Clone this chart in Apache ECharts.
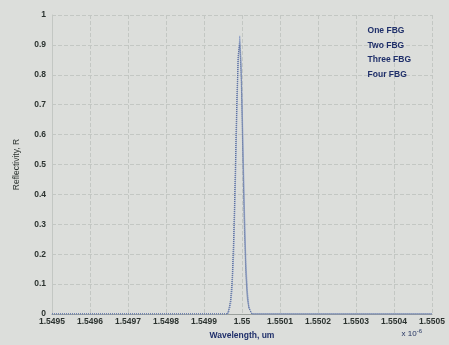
<!DOCTYPE html>
<html><head><meta charset="utf-8">
<script src="https://cdn.jsdelivr.net/npm/echarts@6/dist/echarts.min.js"></script>
<style>html,body{margin:0;padding:0;background:#dcdedb;}#c{width:449px;height:345px;}</style>
</head><body><div id="c"></div>
<script>
const seriesNames = ['One FBG', 'Two FBG', 'Three FBG', 'Four FBG'];
const wavelength = [1.5495, 1.549962, 1.549966, 1.549970, 1.549974, 1.549978, 1.549982, 1.549986, 1.549990, 1.549994, 1.549998, 1.550002, 1.550006, 1.550010, 1.550014, 1.550018, 1.550022, 1.550026, 1.5505];
const oneFBG   = [0, 0, 0.01, 0.03, 0.08, 0.19, 0.38, 0.62, 0.84, 0.93, 0.84, 0.62, 0.38, 0.19, 0.08, 0.03, 0.01, 0, 0];
const twoFBG   = [0, 0, 0.01, 0.04, 0.09, 0.21, 0.41, 0.65, 0.85, 0.92, 0.82, 0.59, 0.35, 0.17, 0.07, 0.02, 0.01, 0, 0];
const threeFBG = [0, 0, 0.02, 0.04, 0.10, 0.23, 0.44, 0.68, 0.86, 0.91, 0.80, 0.56, 0.32, 0.15, 0.06, 0.02, 0.01, 0, 0];
const fourFBG  = [0, 0, 0.02, 0.05, 0.12, 0.26, 0.47, 0.71, 0.87, 0.90, 0.78, 0.53, 0.29, 0.13, 0.05, 0.02, 0.01, 0, 0];
const xTicks = [1.5495, 1.5505, 0.0001];
const yTicks = [0, 1, 0.1];

const allY = [oneFBG, twoFBG, threeFBG, fourFBG];
const colors = ['#6f86bd', '#8fa0c8', '#7d8fb5', '#5c6f9e'];
const chart = echarts.init(document.getElementById('c'), null, {renderer: 'canvas'});
const lblColor = '#2c3330';
chart.setOption({
  backgroundColor: '#dcdedb',
  animation: false,
  textStyle: {fontFamily: 'Liberation Sans, Arial, sans-serif'},
  grid: {left: 52, right: 17, top: 15, bottom: 29},
  title: {
    text: 'x 10{s|-6}', right: 22, bottom: 2,
    textStyle: {fontSize: 8, color: '#1f2f5e', fontWeight: 'normal', rich: {s: {fontSize: 6, verticalAlign: 'top', padding: [0,0,6,0], color: '#1f2f5e'}}}
  },
  legend: {
    data: seriesNames, orient: 'vertical', right: 38, top: 24, icon: 'none',
    itemWidth: 0, itemGap: 3, padding: 0, align: 'left',
    textStyle: {fontSize: 8.5, color: '#1f2f6a', fontWeight: 'bold'}
  },
  xAxis: {
    type: 'value', min: xTicks[0], max: xTicks[1], interval: xTicks[2],
    name: 'Wavelength, um', nameLocation: 'middle', nameGap: 17,
    nameTextStyle: {fontSize: 8.5, color: '#1f2f6a', fontWeight: 'bold'},
    axisLine: {lineStyle: {color: '#9aa09c'}},
    axisTick: {show: false},
    axisLabel: {fontSize: 8.5, color: lblColor, fontWeight: 'bold', margin: 3, formatter: v => String(+v.toFixed(4))},
    splitLine: {show: true, lineStyle: {color: '#c3c7c3', type: 'dashed', width: 1}}
  },
  yAxis: {
    type: 'value', min: yTicks[0], max: yTicks[1], interval: yTicks[2],
    name: 'Reflectivity, R', nameLocation: 'middle', nameGap: 31,
    nameTextStyle: {fontSize: 8.5, color: '#2c3330'},
    axisLine: {show: true, lineStyle: {color: '#c3c7c3'}},
    axisTick: {show: false},
    axisLabel: {fontSize: 8.5, color: lblColor, fontWeight: 'bold', margin: 6, formatter: v => String(+v.toFixed(1))},
    splitLine: {show: true, lineStyle: {color: '#c3c7c3', type: 'dashed', width: 1}}
  },
  series: seriesNames.map((n, i) => ({
    name: n, type: 'line', showSymbol: false,
    data: wavelength.map((w, j) => [w, allY[i][j]]),
    lineStyle: {color: colors[i], width: 1, type: 'dotted'},
    itemStyle: {color: colors[i]}
  }))
});
</script></body></html>
